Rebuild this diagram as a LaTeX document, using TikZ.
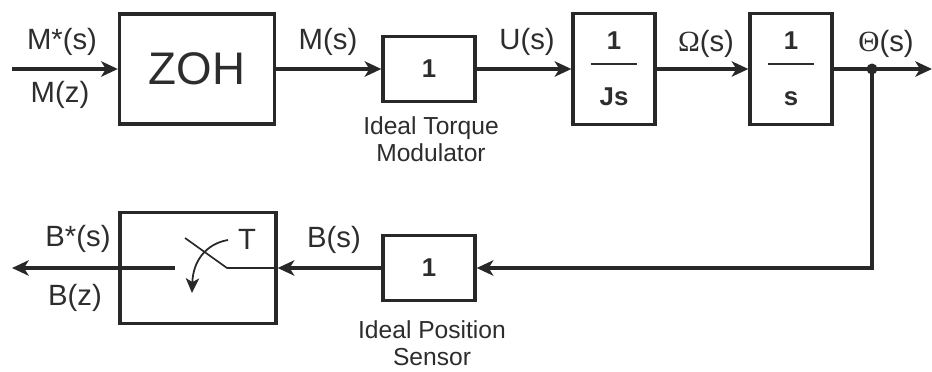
\documentclass[tikz,border=0pt]{standalone}
\usepackage{fontspec}
\setmainfont{Liberation Sans}
\newfontfamily\greekfont{Liberation Serif}
\usetikzlibrary{arrows.meta, positioning, calc}
\definecolor{linegray}{RGB}{40, 40, 40}
\definecolor{textgray}{RGB}{45, 45, 45}

\begin{document}
\begin{tikzpicture}[
  x=0.03cm, y=-0.03cm,
  block/.style={draw=linegray, line width=2.8pt, fill=white, inner sep=0pt, text=textgray},
  gain/.style={block, minimum width=2.76cm, minimum height=1.95cm, font=\fontsize{22}{26}\selectfont\bfseries},
  frac/.style={block, minimum width=2.46cm, minimum height=3.33cm, align=center, font=\fontsize{22}{24}\selectfont\bfseries},
  sig/.style={draw=linegray, line width=2.8pt, -{Stealth[length=5mm, width=4.6mm, inset=1.4mm]}},
  lbl/.style={font=\fontsize{25}{29}\selectfont, text=textgray, inner sep=0pt},
  desc/.style={font=\fontsize{21}{23}\selectfont, text=textgray, align=center, inner sep=0pt},
]
\useasboundingbox (0,0) rectangle (932,372);

% forward path
\coordinate (in) at (12,69);
\node[block, minimum width=4.65cm, minimum height=3.3cm, font=\fontsize{39}{44}\selectfont] (zoh) at (197,69) {ZOH};
\node[gain] (tm) at (429,69) {1};
\node[frac] (js) at (614,69) {1\\\rule[10.8pt]{1.4cm}{2.2pt}\\Js};
\node[frac] (integ) at (791,69) {1\\\rule[10.8pt]{1.4cm}{2.2pt}\\s};
\coordinate (dot) at (872,69);
\coordinate (out) at (932,69);

\draw[sig] (in) -- (zoh.west);
\draw[sig] (zoh.east) -- (tm.west);
\draw[sig] (tm.east) -- (js.west);
\draw[sig] (js.east) -- (integ.west);
\draw[sig] (integ.east) -- (out);
\fill[linegray] (dot) circle (5.5);

\node[lbl] (mstar) at (62,42) {M*(s)};
\node[lbl] (mz) at (60,95) {M(z)};
\node[lbl] (ms) at (328,42) {M(s)};
\node[lbl] (us) at (527,42) {U(s)};
\node[lbl] (oms) at (706,44) {{\greekfont Ω}(s)};
\node[lbl] (ths) at (886,44) {{\greekfont Θ}(s)};
\node[desc] (tmtxt) at (431,139) {Ideal Torque\\Modulator};

% feedback path
\node[gain] (sensor) at (429,268) {1};
\node[block, minimum width=4.68cm, minimum height=3.33cm] (sampler) at (198,268) {};
\coordinate (swp) at (227,268);
\coordinate (swt) at (185,238);
\coordinate (swl) at (175,268);
\coordinate (bout) at (12,268);
\coordinate (arcs) at (228,240);
\coordinate (arce) at (192,293);

\draw[sig] (dot) |- (sensor.east);
\draw[sig] (sensor.west) -- (sampler.east);
\draw[draw=linegray, line width=1.4pt] (sampler.east) -- (swp) -- (swt);
\draw[sig] (swl) -- (bout);
\draw[draw=linegray, line width=1.5pt, -{Stealth[length=4.4mm, width=4mm, inset=1.1mm]}]
  (arcs) .. controls (205,244) and (193,262) .. (arce);

\node[lbl] (T) at (247,239) {T};
\node[lbl] (bstar) at (78,239) {B*(s)};
\node[lbl] (bz) at (75,298) {B(z)};
\node[lbl] (bs) at (334,240) {B(s)};
\node[desc] (sentxt) at (432,343) {Ideal Position\\Sensor};
\end{tikzpicture}
\end{document}
